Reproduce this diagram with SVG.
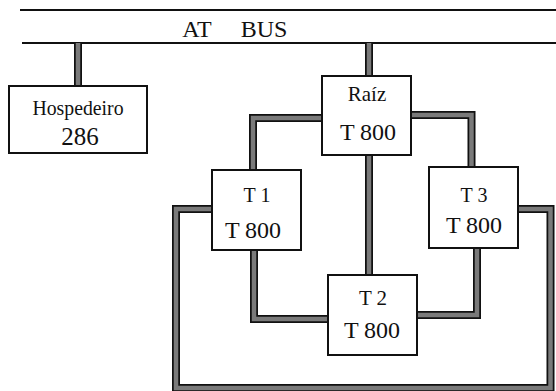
<svg xmlns="http://www.w3.org/2000/svg" width="556" height="391" viewBox="0 0 556 391">
<style>
.bus{stroke:#111;stroke-width:2.2;fill:none}
.co{fill:none;stroke:#111;stroke-width:8;stroke-linejoin:miter;stroke-linecap:butt}
.ci{fill:none;stroke:#7a7a7a;stroke-width:4.5;stroke-linejoin:miter;stroke-linecap:butt}
.box{fill:#fff;stroke:#111;stroke-width:2}
.t{fill:#111;text-anchor:middle}
</style>
<rect width="556" height="391" fill="#fff"/>
<g id="bus" font-family="'Liberation Serif', 'DejaVu Serif', serif">
<line class="bus" x1="20" y1="10" x2="556" y2="10"/>
<line class="bus" x1="22" y1="43" x2="556" y2="43"/>
<text class="t" x="197" y="37" font-size="24">AT</text>
<text class="t" x="264" y="37" font-size="24">BUS</text>
</g>
<g id="connectors">
<g class="co">
<path d="M78 43V87"/>
<path d="M369 43V77"/>
<path d="M323 118H253V171"/>
<path d="M410 115H471.5V168"/>
<path d="M369 154V276"/>
<path d="M254 249V319H329"/>
<path d="M477 247V315H416"/>
<path d="M213 209H176V388H550.5V209H517"/>
</g>
<g class="ci">
<path d="M78 43V87"/>
<path d="M369 43V77"/>
<path d="M323 118H253V171"/>
<path d="M410 115H471.5V168"/>
<path d="M369 154V276"/>
<path d="M254 249V319H329"/>
<path d="M477 247V315H416"/>
<path d="M213 209H176V388H550.5V209H517"/>
</g>
</g>
<g id="hospedeiro" font-family="'Liberation Serif', 'DejaVu Serif', serif">
<rect class="box" x="9" y="86" width="138" height="67"/>
<text class="t" x="78" y="115" font-size="21" textLength="91" lengthAdjust="spacingAndGlyphs">Hospedeiro</text>
<text class="t" x="80" y="145" font-size="25">286</text>
</g>
<g id="raiz" font-family="'Liberation Serif', 'DejaVu Serif', serif">
<rect class="box" x="322" y="76" width="89" height="79"/>
<text class="t" x="367" y="101" font-size="21">Raíz</text>
<text class="t" x="368" y="140" font-size="24">T 800</text>
</g>
<g id="t1" font-family="'Liberation Serif', 'DejaVu Serif', serif">
<rect class="box" x="212" y="170" width="89" height="80"/>
<text class="t" x="257" y="202" font-size="20">T 1</text>
<text class="t" x="253" y="238" font-size="24">T 800</text>
</g>
<g id="t3" font-family="'Liberation Serif', 'DejaVu Serif', serif">
<rect class="box" x="429" y="167" width="89" height="81"/>
<text class="t" x="474" y="202" font-size="20">T 3</text>
<text class="t" x="474" y="233" font-size="24">T 800</text>
</g>
<g id="t2" font-family="'Liberation Serif', 'DejaVu Serif', serif">
<rect class="box" x="328" y="275" width="89" height="80"/>
<text class="t" x="373" y="305" font-size="21">T 2</text>
<text class="t" x="372" y="338" font-size="24">T 800</text>
</g>
</svg>
